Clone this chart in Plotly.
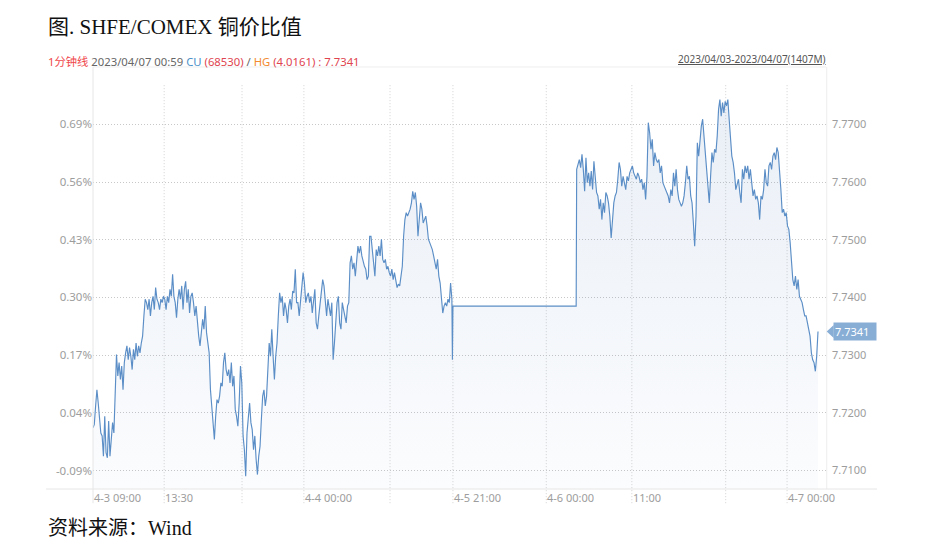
import numpy as np
import plotly.graph_objects as go

# ---------------- data (SHFE/COMEX copper price ratio, 1-minute line) ----------------
# minute offsets counted from 2023-04-03 09:00 (trading minutes only)
session1_span = [0, 696]
session2_span = [938, 1406]

session1_ratio = [
    7.7174, 7.7180, 7.7212, 7.7240, 7.7217, 7.7183, 7.7165, 7.7160, 7.7125, 7.7194,
    7.7131, 7.7122, 7.7186, 7.7125, 7.7160, 7.7183, 7.7165, 7.7240, 7.7301, 7.7264,
    7.7287, 7.7258, 7.7281, 7.7240, 7.7287, 7.7304, 7.7316, 7.7292, 7.7313, 7.7298,
    7.7275, 7.7310, 7.7292, 7.7321, 7.7298, 7.7316, 7.7304, 7.7321, 7.7333, 7.7368,
    7.7397, 7.7391, 7.7379, 7.7397, 7.7368, 7.7391, 7.7402, 7.7379, 7.7417, 7.7397,
    7.7391, 7.7379, 7.7397, 7.7391, 7.7402, 7.7397, 7.7379, 7.7402, 7.7391, 7.7414,
    7.7402, 7.7440, 7.7402, 7.7391, 7.7365, 7.7397, 7.7414, 7.7397, 7.7420, 7.7379,
    7.7414, 7.7428, 7.7391, 7.7414, 7.7373, 7.7402, 7.7408, 7.7391, 7.7368, 7.7385,
    7.7356, 7.7333, 7.7316, 7.7345, 7.7362, 7.7345, 7.7385, 7.7339, 7.7316, 7.7304,
    7.7240, 7.7206, 7.7171, 7.7154, 7.7194, 7.7223, 7.7217, 7.7229, 7.7252, 7.7246,
    7.7287, 7.7304, 7.7275, 7.7264, 7.7275, 7.7252, 7.7287, 7.7246, 7.7264, 7.7206,
    7.7194, 7.7177, 7.7217, 7.7281, 7.7252, 7.7160, 7.7136, 7.7090, 7.7165, 7.7188,
    7.7217, 7.7183, 7.7171, 7.7136, 7.7160, 7.7119, 7.7093, 7.7125, 7.7142, 7.7188,
    7.7229, 7.7240, 7.7212, 7.7229, 7.7287, 7.7321, 7.7298, 7.7345, 7.7298, 7.7258,
    7.7298, 7.7321, 7.7368, 7.7408, 7.7391, 7.7402, 7.7368, 7.7391, 7.7379, 7.7356,
    7.7385, 7.7397, 7.7379, 7.7411, 7.7408, 7.7449, 7.7391, 7.7391, 7.7368,
    7.7391, 7.7414, 7.7443, 7.7425, 7.7391, 7.7402, 7.7408, 7.7391, 7.7402, 7.7373,
    7.7397, 7.7414, 7.7356, 7.7345, 7.7368, 7.7391, 7.7402, 7.7431, 7.7420, 7.7391,
    7.7368, 7.7397, 7.7379, 7.7368, 7.7391, 7.7292, 7.7321, 7.7356, 7.7391, 7.7402,
    7.7356, 7.7345, 7.7391, 7.7379, 7.7368, 7.7356, 7.7385, 7.7391, 7.7460, 7.7472,
    7.7449, 7.7460, 7.7437, 7.7460, 7.7489, 7.7477, 7.7489, 7.7472, 7.7460, 7.7454,
    7.7449, 7.7431, 7.7437, 7.7506, 7.7506, 7.7483, 7.7472, 7.7437, 7.7483, 7.7472,
    7.7489, 7.7472, 7.7501, 7.7466, 7.7460, 7.7466, 7.7449, 7.7454, 7.7443, 7.7437,
    7.7449, 7.7431, 7.7443, 7.7425, 7.7417, 7.7423, 7.7420, 7.7437, 7.7454, 7.7506,
    7.7535, 7.7547, 7.7541, 7.7547, 7.7553, 7.7564, 7.7584, 7.7570, 7.7582, 7.7558,
    7.7506, 7.7535, 7.7564, 7.7553, 7.7529, 7.7535, 7.7541, 7.7524, 7.7501, 7.7495,
    7.7489, 7.7483, 7.7472, 7.7460, 7.7449, 7.7466, 7.7437, 7.7425, 7.7397, 7.7373,
    7.7385, 7.7391, 7.7385, 7.7397, 7.7391, 7.7425, 7.7397,
]

# holiday night session: ratio held flat
hold_minutes = [697, 698, 937]
hold_ratio = [7.7292, 7.7385, 7.7385]

session2_ratio = [
    7.7622, 7.7631, 7.7639, 7.7625, 7.7648, 7.7622, 7.7584, 7.7642, 7.7599, 7.7616,
    7.7593, 7.7619, 7.7587, 7.7636, 7.7605, 7.7582, 7.7576, 7.7553, 7.7570, 7.7535,
    7.7564, 7.7547, 7.7582, 7.7576, 7.7564, 7.7541, 7.7503, 7.7535, 7.7564, 7.7576,
    7.7582, 7.7605, 7.7634, 7.7622, 7.7593, 7.7610, 7.7599, 7.7587, 7.7610, 7.7602,
    7.7616, 7.7622, 7.7628, 7.7616, 7.7610, 7.7605, 7.7616, 7.7610, 7.7599, 7.7605,
    7.7587, 7.7599, 7.7570, 7.7610, 7.7703, 7.7686, 7.7657, 7.7674, 7.7628, 7.7651,
    7.7639, 7.7634, 7.7639, 7.7616, 7.7628, 7.7599, 7.7593, 7.7587, 7.7582, 7.7576,
    7.7564, 7.7587, 7.7576, 7.7616, 7.7593, 7.7622, 7.7587, 7.7570, 7.7564, 7.7558,
    7.7564, 7.7576, 7.7599, 7.7628, 7.7605, 7.7610, 7.7576, 7.7564, 7.7529, 7.7489,
    7.7541, 7.7668, 7.7645, 7.7674, 7.7697, 7.7709, 7.7680, 7.7657, 7.7622, 7.7599,
    7.7564, 7.7610, 7.7651, 7.7634, 7.7657, 7.7651, 7.7680, 7.7726, 7.7743, 7.7714,
    7.7738, 7.7720, 7.7740, 7.7732, 7.7743, 7.7709, 7.7680, 7.7645, 7.7634, 7.7616,
    7.7587, 7.7599, 7.7605, 7.7582, 7.7564, 7.7622, 7.7605, 7.7628, 7.7616, 7.7628,
    7.7605, 7.7622, 7.7593, 7.7576, 7.7587, 7.7570, 7.7576, 7.7564, 7.7535, 7.7576,
    7.7570, 7.7587, 7.7622, 7.7599, 7.7593, 7.7628, 7.7634, 7.7622, 7.7645, 7.7651,
    7.7639, 7.7660, 7.7651, 7.7622, 7.7587, 7.7547, 7.7553, 7.7541, 7.7547, 7.7524,
    7.7518, 7.7495, 7.7460, 7.7431, 7.7420, 7.7437, 7.7414, 7.7431, 7.7402, 7.7397,
    7.7391, 7.7379, 7.7368, 7.7368, 7.7356, 7.7345, 7.7333, 7.7304, 7.7292, 7.7287,
    7.7272, 7.7298, 7.7341,
]

ratio_ticks = [7.71, 7.72, 7.73, 7.74, 7.75, 7.76, 7.77]
ratio_tick_text = ["7.7100", "7.7200", "7.7300", "7.7400", "7.7500", "7.7600", "7.7700"]
pct_tick_text = ["-0.09%", "0.04%", "0.17%", "0.30%", "0.43%", "0.56%", "0.69%"]

x_label_minutes = [0, 138, 409, 698, 879, 1045, 1346]
x_label_text = ["4-3 09:00", "13:30", "4-4 00:00", "4-5 21:00", "4-6 00:00", "11:00", "4-7 00:00"]
x_grid_minutes = [138, 289, 409, 576, 698, 879, 1045, 1227, 1346]

last_value = 7.7341

# ---------------- build series ----------------
x = np.concatenate([
    np.linspace(session1_span[0], session1_span[1], len(session1_ratio)),
    np.array(hold_minutes, dtype=float),
    np.linspace(session2_span[0], session2_span[1], len(session2_ratio)),
])
y = np.concatenate([session1_ratio, hold_ratio, session2_ratio])

Y_MIN, Y_MAX = 7.7068, 7.7770
X_MAX = 1421.5

LINE = "#5b8ec6"
GRID = "#c8c8c8"
FRAME = "#e6e6e6"
AX_FONT = dict(family="Noto Sans, Noto Sans CJK SC", size=11, color="#9d9d9d")
LEFT_FONT = dict(family="Noto Sans, Noto Sans CJK SC", size=11.5, color="#9d9d9d")

fig = go.Figure()
fig.add_trace(go.Scatter(
    x=x, y=y, mode="lines",
    line=dict(color=LINE, width=1.15),
    fill="tozeroy",
    fillgradient=dict(
        type="vertical",
        colorscale=[[0, "rgba(60,110,180,0.02)"], [1, "rgba(60,110,180,0.11)"]],
        start=Y_MIN, stop=7.7745,
    ),
    hoverinfo="skip", showlegend=False,
))
# invisible trace to anchor left percentage axis
fig.add_trace(go.Scatter(x=x, y=y, mode="none", yaxis="y2", hoverinfo="skip", showlegend=False))

shapes = []
# vertical dotted gridlines (extend through label row)
for gm in x_grid_minutes:
    shapes.append(dict(type="line", xref="x", yref="paper", x0=gm, x1=gm, y0=-0.035, y1=1.0,
                       line=dict(color="#d2d2d2", width=1, dash="1px,2px"), layer="below"))
# frame
shapes += [
    dict(type="line", xref="paper", yref="paper", x0=0, x1=1, y0=1.042, y1=1.042,
         line=dict(color="#eeeeee", width=1)),
    dict(type="line", xref="paper", yref="paper", x0=0, x1=0, y0=-0.035, y1=1.042,
         line=dict(color=FRAME, width=1)),
    dict(type="line", xref="paper", yref="paper", x0=1.001, x1=1.001, y0=0, y1=1.042,
         line=dict(color="#eeeeee", width=1)),
    dict(type="line", xref="paper", yref="paper", x0=-0.064, x1=1.0696, y0=0, y1=0,
         line=dict(color=FRAME, width=1)),
]
# last-value pointer
px_y = (Y_MAX - Y_MIN) / 405.0
shapes.append(dict(type="path", xref="paper", yref="y",
                   path=f"M 1.001,{last_value} L 1.0105,{last_value + 6.5 * px_y} L 1.0105,{last_value - 6.5 * px_y} Z",
                   fillcolor="#88aed6", line=dict(width=0)))

annotations = []
for m, t in zip(x_label_minutes, x_label_text):
    annotations.append(dict(x=m, y=-0.021, xref="x", yref="paper", text=t, showarrow=False,
                            xanchor="left", yanchor="middle", font=AX_FONT, xshift=-1))
annotations.append(dict(x=1.0095, y=last_value, xref="paper", yref="y", text="7.7341",
                        showarrow=False, xanchor="left", yanchor="middle",
                        bgcolor="#88aed6", borderpad=1, width=40, align="left",
                        font=dict(family="Noto Sans", size=11, color="white")))
annotations.append(dict(x=-0.0641, y=1.1407, xref="paper", yref="paper",
                        text="图. SHFE/COMEX 铜价比值", showarrow=False,
                        xanchor="left", yanchor="middle",
                        font=dict(family="Liberation Serif, Noto Sans CJK SC", size=21, color="#111111")))
annotations.append(dict(x=-0.0641, y=-0.0963, xref="paper", yref="paper",
                        text="资料来源：Wind", showarrow=False,
                        xanchor="left", yanchor="middle",
                        font=dict(family="Liberation Serif, Noto Sans CJK SC", size=20, color="#111111")))
sub = ('<span style="color:#f0474c">1分钟线</span>'
       '<span style="color:#666666"> 2023/04/07 00:59 </span>'
       '<span style="color:#4a90c8">CU</span>'
       '<span style="color:#e0444f"> (68530)</span>'
       '<span style="color:#666666"> / </span>'
       '<span style="color:#f28a30">HG</span>'
       '<span style="color:#e0444f"> (4.0161) : 7.7341</span>')
annotations.append(dict(x=-0.0641, y=1.0556, xref="paper", yref="paper", text=sub,
                        showarrow=False, xanchor="left", yanchor="middle",
                        font=dict(family="Noto Sans, Noto Sans CJK SC", size=11.3)))
annotations.append(dict(x=1.003, y=1.0617, xref="paper", yref="paper",
                        text="<u>2023/04/03-2023/04/07(1407M)</u>",
                        showarrow=False, xanchor="right", yanchor="middle",
                        font=dict(family="Noto Sans", size=10, color="#555555")))

# page body has an 8px margin, so the figure is sized and offset to land on the 940x554 frame
fig.update_layout(
    width=932, height=546,
    margin=dict(l=85, r=114, t=76, b=65),
    paper_bgcolor="white", plot_bgcolor="white",
    xaxis=dict(range=[0, X_MAX], showgrid=False, zeroline=False, showline=False,
               showticklabels=False, ticks=""),
    yaxis=dict(range=[Y_MIN, Y_MAX], side="right", tickvals=ratio_ticks, ticktext=ratio_tick_text,
               showgrid=True, gridcolor=GRID, griddash="1px,2px", gridwidth=1,
               zeroline=False, showline=False, ticks="", ticklabelstandoff=5, tickfont=AX_FONT),
    yaxis2=dict(range=[Y_MIN, Y_MAX], overlaying="y", side="left", tickvals=ratio_ticks,
                ticktext=pct_tick_text, showgrid=False, zeroline=False, showline=False,
                ticks="", ticklabelstandoff=0, tickfont=LEFT_FONT),
    shapes=shapes, annotations=annotations,
    showlegend=False,
)

fig.write_html("out.html")
